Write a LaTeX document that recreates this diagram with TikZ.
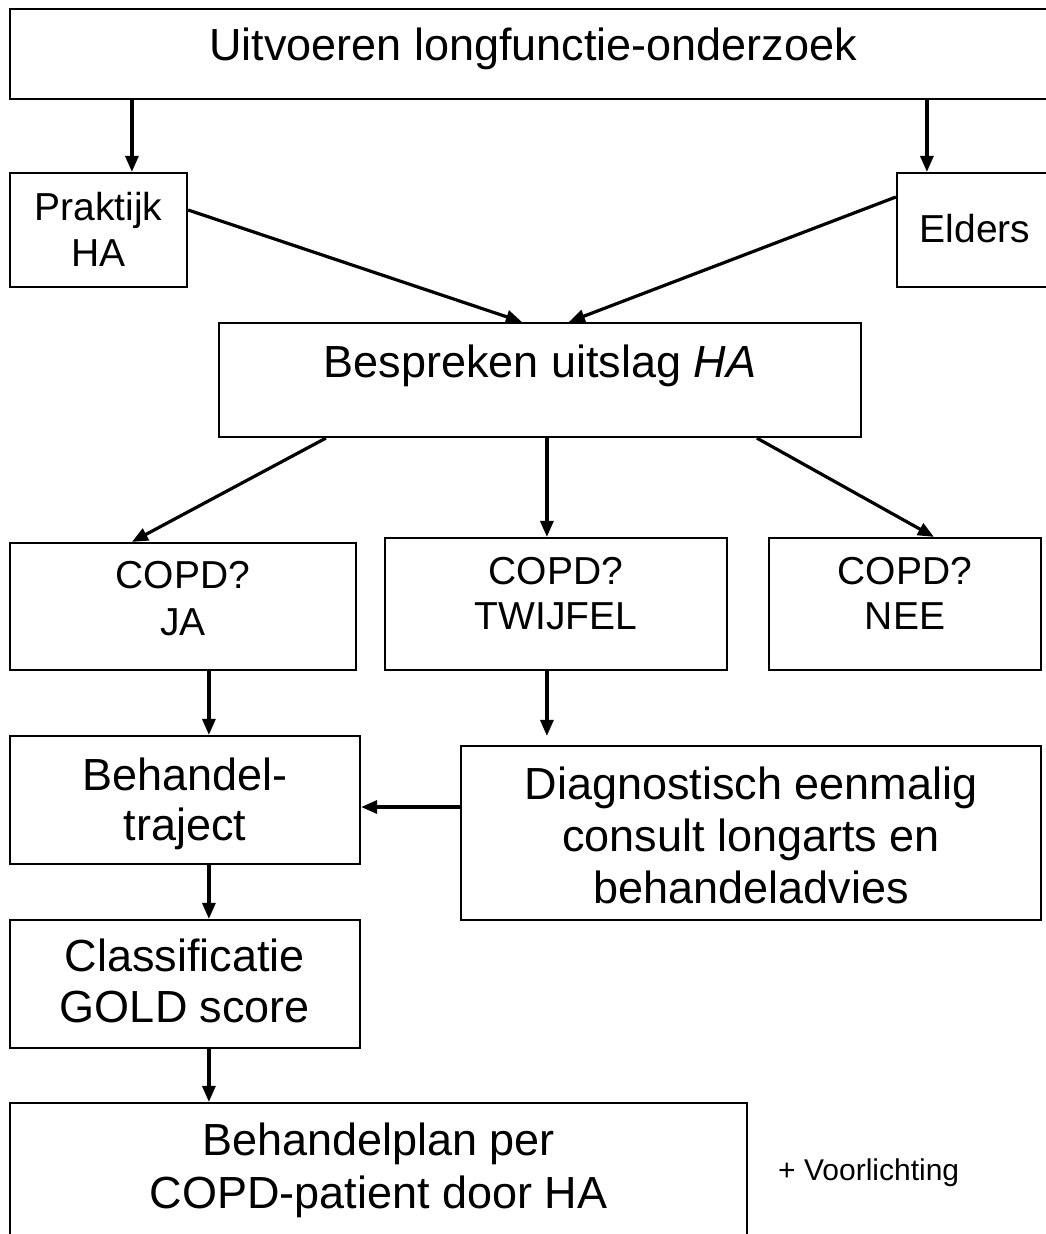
\documentclass[tikz,border=0pt]{standalone}
\usepackage{fontspec}
\setmainfont{Liberation Sans}
\usetikzlibrary{arrows.meta}
\tikzset{
  box/.style={draw=black, line width=2.2pt, rectangle, inner sep=0pt},
  arr/.style={line width=3.2pt, -{Triangle[length=16pt,width=13pt]}},
  big/.style={inner sep=0pt, anchor=base, font=\fontsize{45}{52}\selectfont},
  mid/.style={inner sep=0pt, anchor=base, font=\fontsize{39}{46}\selectfont},
  tiny/.style={inner sep=0pt, anchor=base west, font=\fontsize{30}{36}\selectfont}
}
\begin{document}
\begin{tikzpicture}[x=1pt,y=-1pt]
\useasboundingbox (0,0) rectangle (1046,1234);
\clip (0,0) rectangle (1046,1234);
\fill[white] (0,0) rectangle (1046,1234);

% boxes
\node[box, minimum width=1046pt, minimum height=90pt] (top) at (533,54) {};
\node[box, minimum width=177pt, minimum height=114pt] (prak) at (98.5,230) {};
\node[box, minimum width=156pt, minimum height=114pt] (eld) at (975,230) {};
\node[box, minimum width=642pt, minimum height=114pt] (bes) at (540,380) {};
\node[box, minimum width=346pt, minimum height=127pt] (ja) at (183,606.5) {};
\node[box, minimum width=342pt, minimum height=132pt] (tw) at (556,604) {};
\node[box, minimum width=272pt, minimum height=132pt] (nee) at (905,604) {};
\node[box, minimum width=350pt, minimum height=128pt] (beh) at (185,800) {};
\node[box, minimum width=580pt, minimum height=174pt] (diag) at (751,833) {};
\node[box, minimum width=350pt, minimum height=128pt] (cls) at (185,984) {};
\node[box, minimum width=737pt, minimum height=137pt] (plan) at (378.5,1171.5) {};

% texts
\node[big] (ttop) at (533,60) {Uitvoeren longfunctie-onderzoek};
\node[mid] (tprak1) at (98.5,220) {Praktijk};
\node[mid] (tprak2) at (98.5,266) {HA};
\node[mid] (teld) at (975,242) {Elders};
\node[big] (tbes) at (540,377) {Bespreken uitslag \textit{HA}};
\node[mid] (tja1) at (183,588) {COPD?};
\node[mid] (tja2) at (183,635) {JA};
\node[mid] (ttw1) at (556,584) {COPD?};
\node[mid] (ttw2) at (556,629) {TWIJFEL};
\node[mid] (tnee1) at (905,584) {COPD?};
\node[mid] (tnee2) at (905,629) {NEE};
\node[big] (tbeh1) at (185,790) {Behandel-};
\node[big] (tbeh2) at (185,840) {traject};
\node[big] (tdiag1) at (751,799) {Diagnostisch eenmalig};
\node[big] (tdiag2) at (751,851) {consult longarts en};
\node[big] (tdiag3) at (751,903) {behandeladvies};
\node[big] (tcls1) at (185,971) {Classificatie};
\node[big] (tcls2) at (185,1022) {GOLD score};
\node[big] (tplan1) at (378.5,1155) {Behandelplan per};
\node[big] (tplan2) at (378.5,1208) {COPD-patient door HA};
\node[tiny] (tvoor) at (778,1180) {+ Voorlichting};

% connectors
\draw[arr] ([xshift=123pt]top.south west) -- ([xshift=123pt]prak.north west);
\draw[arr] ([xshift=918pt]top.south west) -- ([xshift=31pt]eld.north west);
\draw[arr] ([yshift=20pt]prak.east) -- ([xshift=304pt]bes.north west);
\draw[arr] ([yshift=33pt]eld.west) -- ([xshift=351pt]bes.north west);
\draw[arr] ([xshift=108pt]bes.south west) -- ([xshift=123pt]ja.north west);
\draw[arr] ([xshift=329pt]bes.south west) -- ([xshift=163pt]tw.north west);
\draw[arr] ([xshift=539pt]bes.south west) -- ([xshift=166pt]nee.north west);
\draw[arr] ([xshift=200pt]ja.south west) -- ([xshift=200pt]beh.north west);
\draw[arr] ([xshift=163pt]tw.south west) -- ([xshift=87pt,yshift=9pt]diag.north west);
\draw[arr] ([yshift=26pt]diag.west) -- ([yshift=-7pt]beh.east);
\draw[arr] ([xshift=200pt]beh.south west) -- ([xshift=200pt]cls.north west);
\draw[arr] ([xshift=200pt]cls.south west) -- ([xshift=200pt]plan.north west);
\end{tikzpicture}
\end{document}
